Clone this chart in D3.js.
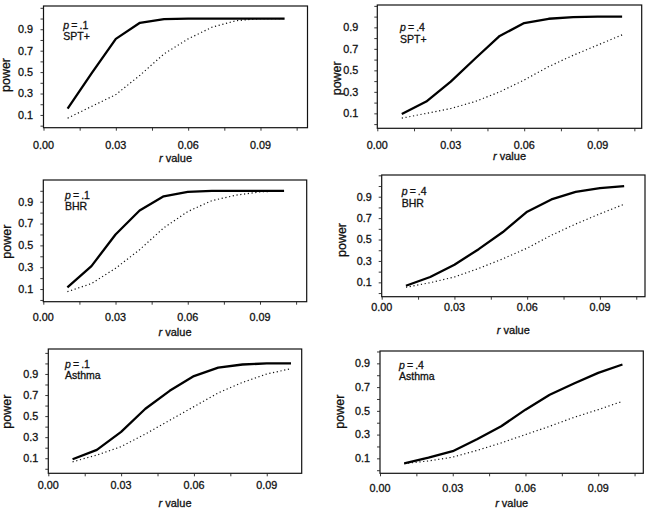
<!DOCTYPE html>
<html><head><meta charset="utf-8">
<script src="https://cdn.jsdelivr.net/npm/d3@7"></script>
<style>body{margin:0;background:#fff} text{font-family:"Liberation Sans",Arial,Helvetica,sans-serif;fill:#111;stroke:#111;stroke-width:0.3px}</style>
</head><body><svg id="c" width="651" height="509"></svg>
<script>
// ---- data ----
const rValues = [0.01,0.02,0.03,0.04,0.05,0.06,0.07,0.08,0.09,0.10];
const xTickLabels = [0, 0.03, 0.06, 0.09];
const yTickLabels = [0.1, 0.3, 0.5, 0.7, 0.9];
const panelP = [".1", ".4", ".1", ".4", ".1", ".4"];
const panelOutcome = ["SPT+", "SPT+", "BHR", "BHR", "Asthma", "Asthma"];
const solidSPT1  = [0.16,0.49,0.81,0.96,0.995,1,1,1,1,1];
const dottedSPT1 = [0.07,0.18,0.29,0.47,0.67,0.81,0.92,0.98,1.0,1.0];
const solidSPT4  = [0.094,0.21,0.395,0.61,0.82,0.94,0.98,0.995,1,1];
const dottedSPT4 = [0.055,0.10,0.145,0.21,0.30,0.41,0.535,0.64,0.735,0.83];
const solidBHR1  = [0.115,0.31,0.60,0.82,0.95,0.99,1,1,1,1];
const dottedBHR1 = [0.076,0.15,0.29,0.46,0.66,0.81,0.91,0.96,0.99,1.0];
const solidBHR4  = [0.068,0.15,0.265,0.41,0.57,0.76,0.875,0.945,0.98,1.0];
const dottedBHR4 = [0.054,0.097,0.15,0.23,0.32,0.42,0.54,0.645,0.74,0.83];
const solidAst1  = [0.09,0.18,0.35,0.57,0.74,0.88,0.96,0.99,1,1];
const dottedAst1 = [0.066,0.13,0.21,0.33,0.46,0.59,0.72,0.82,0.90,0.95];
const solidAst4  = [0.058,0.106,0.16,0.26,0.37,0.51,0.635,0.73,0.82,0.89];
const dottedAst4 = [0.056,0.078,0.11,0.167,0.23,0.30,0.37,0.445,0.51,0.58];
const solidSeries  = [solidSPT1, solidSPT4, solidBHR1, solidBHR4, solidAst1, solidAst4];
const dottedSeries = [dottedSPT1, dottedSPT4, dottedBHR1, dottedBHR4, dottedAst1, dottedAst4];

// ---- layout (pixel frames per panel) ----
const layout = [
 {l:43.5,t:6,  r:307.5,b:127.7,xmax:0.1095,ymin:-0.019,ymax:1.117,tlY:145,  ttY:157.7,ylR:33,  pwX:6.3, pwY:75,   anX:63.3, anY:25},
 {l:377.3,t:5, r:641.7,b:128.3,xmax:0.108, ymin:-0.039,ymax:1.108,tlY:145,  ttY:156,  ylR:358.3,pwX:336.7,pwY:78.3,anX:400, anY:27.7},
 {l:43.3,t:180,r:306.7,b:301.7,xmax:0.1094,ymin:-0.016,ymax:1.099,tlY:316.7,ttY:331.7,ylR:33.3,pwX:6.7, pwY:241.7,anX:65,  anY:195},
 {l:381.7,t:175,r:645,b:296.7, xmax:0.1086,ymin:-0.034,ymax:1.103,tlY:306.7,ttY:330,  ylR:371.7,pwX:341.7,pwY:240, anX:401.7,anY:191.7},
 {l:48.3,t:349,r:301.7,b:473.3,xmax:0.1044,ymin:-0.043,ymax:1.137,tlY:485,  ttY:503.3,ylR:38.3,pwX:6.7, pwY:411.7,anX:65,  anY:364},
 {l:380,t:351, r:643.3,b:473.3,xmax:0.1086,ymin:-0.026,ymax:1.004,tlY:488.3,ttY:503.3,ylR:370, pwX:340, pwY:411.7,anX:399, anY:365}
];

const svg = d3.select("#c");
const xMinor = d3.range(0, 0.1101, 0.015);
const yMinor = d3.range(0, 1.1001, 0.1);

layout.forEach((L, i) => {
  const x = d3.scaleLinear().domain([0, L.xmax]).range([L.l, L.r]);
  const y = d3.scaleLinear().domain([L.ymin, L.ymax]).range([L.b, L.t]);
  const g = svg.append("g");

  // frame
  g.append("rect").attr("x", L.l).attr("y", L.t).attr("width", L.r - L.l).attr("height", L.b - L.t)
    .attr("fill", "none").attr("stroke", "#111").attr("stroke-width", 1.2);

  // x axis ticks (outward)
  const xAx = d3.axisBottom(x).tickValues(xMinor.filter(v => v <= L.xmax)).tickSize(3).tickFormat("");
  g.append("g").attr("transform", `translate(0,${L.b})`).call(xAx)
    .call(s => { s.select(".domain").remove(); s.selectAll("line").attr("stroke", "#222").attr("stroke-width", 0.9); });
  g.selectAll(".xl").data(xTickLabels).enter().append("text")
    .attr("x", d => x(d)).attr("y", L.tlY).attr("dy", "0.36em").attr("text-anchor", "middle")
    .attr("font-size", 10.8).text(d => d3.format(".2f")(d));
  g.append("text").attr("x", (L.l + L.r) / 2).attr("y", L.ttY).attr("dy", "0.36em")
    .attr("text-anchor", "middle").attr("font-size", 11)
    .call(t => { t.append("tspan").attr("font-style", "italic").text("r"); t.append("tspan").text(" value"); });

  // y axis ticks (outward)
  const yAx = d3.axisLeft(y).tickValues(yMinor.filter(v => v >= L.ymin && v <= L.ymax)).tickSize(3).tickFormat("");
  g.append("g").attr("transform", `translate(${L.l},0)`).call(yAx)
    .call(s => { s.select(".domain").remove(); s.selectAll("line").attr("stroke", "#222").attr("stroke-width", 0.9); });
  g.selectAll(".yl").data(yTickLabels).enter().append("text")
    .attr("x", L.ylR).attr("y", d => y(d)).attr("dy", "0.36em").attr("text-anchor", "end")
    .attr("font-size", 10.8).text(d => d3.format(".1f")(d));
  g.append("text").attr("transform", `translate(${L.pwX + 4},${L.pwY}) rotate(-90)`)
    .attr("text-anchor", "middle").attr("font-size", 12.5).text("power");

  // annotation
  const a = g.append("text").attr("x", L.anX).attr("y", L.anY).attr("dy", "0.36em").attr("font-size", 10.5);
  a.append("tspan").attr("font-style", "italic").text("p");
  a.append("tspan").text("\u2009=\u2009" + panelP[i]);
  g.append("text").attr("x", L.anX).attr("y", L.anY + 11.7).attr("dy", "0.36em").attr("font-size", 10.5)
    .text(panelOutcome[i]);

  // lines
  const line = d3.line().x((d, k) => x(rValues[k])).y(d => y(d));
  g.append("path").datum(dottedSeries[i]).attr("d", line).attr("fill", "none")
    .attr("stroke", "#111").attr("stroke-width", 1.2).attr("stroke-dasharray", "1.2,2.6");
  g.append("path").datum(solidSeries[i]).attr("d", line).attr("fill", "none")
    .attr("stroke", "#000").attr("stroke-width", 2.3).attr("stroke-linejoin", "round");
});
</script></body></html>
